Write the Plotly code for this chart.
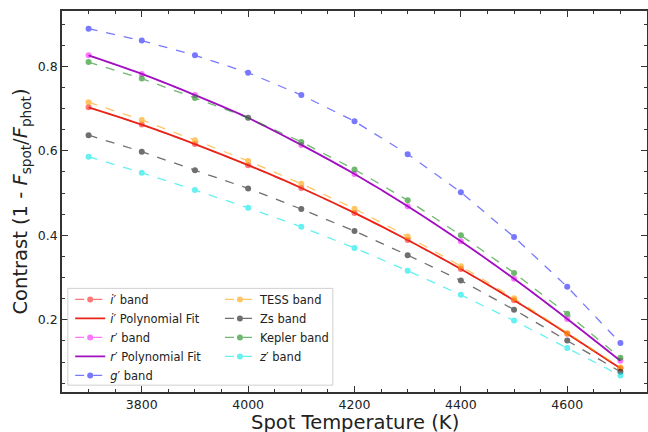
import plotly.graph_objects as go

temps = [3700, 3800, 3900, 4000, 4100, 4200, 4300, 4400, 4500, 4600, 4700]

i_band = [0.703, 0.662, 0.616, 0.566, 0.512, 0.453, 0.389, 0.320, 0.246, 0.167, 0.085]
r_band = [0.826, 0.782, 0.732, 0.678, 0.614, 0.545, 0.469, 0.386, 0.297, 0.202, 0.103]
g_band = [0.889, 0.861, 0.826, 0.785, 0.732, 0.670, 0.592, 0.502, 0.396, 0.278, 0.145]
tess_band = [0.715, 0.673, 0.625, 0.576, 0.522, 0.463, 0.397, 0.327, 0.251, 0.168, 0.087]
zs_band = [0.637, 0.598, 0.554, 0.511, 0.462, 0.410, 0.353, 0.293, 0.224, 0.151, 0.077]
kepler_band = [0.810, 0.771, 0.725, 0.678, 0.621, 0.556, 0.483, 0.400, 0.311, 0.214, 0.110]
z_band = [0.586, 0.548, 0.507, 0.465, 0.420, 0.370, 0.316, 0.259, 0.198, 0.133, 0.068]

fig = go.Figure()

def band(y, name, color, legend):
    fig.add_trace(go.Scatter(
        x=temps, y=y, name=name, mode="lines+markers",
        line=dict(color=color, width=1.3, dash="dash"),
        marker=dict(color=color, size=6),
        opacity=0.6, legend=legend))

def fit(y, name, color, legend):
    fig.add_trace(go.Scatter(
        x=temps, y=y, name=name, mode="lines",
        line=dict(color=color, width=1.8, shape="spline"),
        legend=legend))

band(i_band, "<i>i</i>′ band", "#ff2020", "legend")
fit(i_band, "<i>i</i>′ Polynomial Fit", "#e82418", "legend")
band(r_band, "<i>r</i>′ band", "#ff20ff", "legend")
fit(r_band, "<i>r</i>′ Polynomial Fit", "#a010c0", "legend")
band(g_band, "<i>g</i>′ band", "#2020ff", "legend")
band(tess_band, "TESS band", "#ffa000", "legend2")
band(zs_band, "Zs band", "#111111", "legend2")
band(kepler_band, "Kepler band", "#108a10", "legend2")
band(z_band, "<i>z</i>′ band", "#00e8e8", "legend2")

axis_common = dict(
    showline=True, linecolor="#333333", linewidth=1.5, mirror="allticks",
    ticks="inside", ticklen=6, tickwidth=1.2, tickcolor="#333333",
    showgrid=False, zeroline=False, automargin=False,
    tickfont=dict(family="DejaVu Sans", size=12.5, color="#222222"),
)

fig.update_xaxes(
    range=[3650, 4750], dtick=200, tick0=3800,
    minor=dict(dtick=50, ticks="inside", ticklen=3, tickcolor="#333333", showgrid=False),
    **axis_common)
fig.update_yaxes(
    range=[0.029, 0.931], dtick=0.2, tick0=0, tickformat=".1f",
    minor=dict(dtick=0.05, ticks="inside", ticklen=3, tickcolor="#333333", showgrid=False),
    title=dict(text="Contrast (1 - <i>F</i><sub>spot</sub>/<i>F</i><sub>phot</sub>)",
               font=dict(family="DejaVu Sans", size=19.5, color="#222222"), standoff=5),
    **axis_common)

legend_font = dict(family="DejaVu Sans", size=11.5, color="#222222")
fig.update_layout(
    width=648, height=432,
    margin=dict(l=62, r=1, t=11, b=40),
    paper_bgcolor="white", plot_bgcolor="white",
    legend=dict(x=0.014, y=0.281, xanchor="left", yanchor="top",
                bgcolor="rgba(0,0,0,0)", font=legend_font, tracegroupgap=0,
                itemwidth=30),
    legend2=dict(x=0.27, y=0.281, xanchor="left", yanchor="top",
                 bgcolor="rgba(0,0,0,0)", font=legend_font, tracegroupgap=0,
                 itemwidth=30),
    shapes=[dict(type="rect", xref="paper", yref="paper",
                 x0=0.010, x1=0.463, y0=0.018, y1=0.272,
                 line=dict(color="#d0d0d0", width=1),
                 fillcolor="rgba(255,255,255,0.8)", layer="above")],
    annotations=[dict(text="Spot Temperature (K)", xref="paper", yref="paper",
                      x=0.5, y=-0.079, xanchor="center", yanchor="middle",
                      showarrow=False,
                      font=dict(family="DejaVu Sans", size=19.5, color="#222222"))],
)

fig.write_html("out.html")
